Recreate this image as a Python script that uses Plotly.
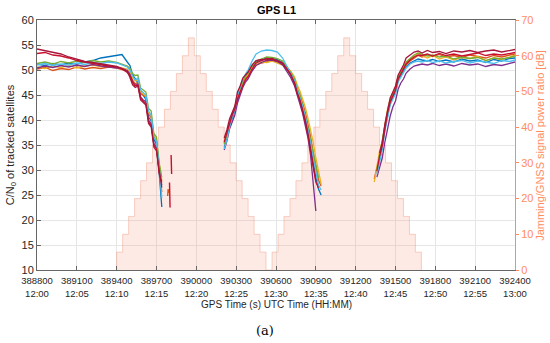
import plotly.graph_objects as go

# ---------------- data ----------------
X_TICKS = [388800, 389100, 389400, 389700, 390000, 390300, 390600, 390900,
           391200, 391500, 391800, 392100, 392400]
X_UTC = ["12:00", "12:05", "12:10", "12:15", "12:20", "12:25", "12:30", "12:35",
         "12:40", "12:45", "12:50", "12:55", "13:00"]

# jamming / GNSS power ratio profile (dB), stepwise
JAM_T = [389400, 389400, 389445, 389490, 389535, 389580, 389625, 389670, 389715, 389760,
         389805, 389850, 389895, 389940, 389985, 390030, 390075, 390120, 390165, 390210,
         390255, 390300, 390345, 390390, 390435, 390480, 390525,
         390570, 390615, 390660, 390705, 390750, 390795, 390840, 390885, 390930, 390975,
         391020, 391065, 391110, 391155, 391200, 391245, 391290, 391335, 391380, 391425,
         391470, 391515, 391560, 391605, 391650, 391695]
JAM_DB = [0, 5, 10, 15, 20, 25, 30, 35, 40, 45,
          50, 55, 60, 65, 60, 55, 50, 45, 40, 35,
          30, 25, 20, 15, 10, 5, 0,
          5, 10, 15, 20, 25, 30, 35, 40, 45, 50,
          55, 60, 65, 60, 55, 50, 45, 40, 35, 30,
          25, 20, 15, 10, 5, 0]

# C/N0 time bases for the three tracked segments
T1 = [388800, 388860, 388920, 388980, 389040, 389100, 389160, 389220, 389280, 389340,
      389400, 389440, 389480, 389500, 389520, 389540, 389560, 389580, 389600, 389620,
      389640, 389660, 389680, 389700, 389720, 389740]
T2 = [390210, 390230, 390250, 390270, 390290, 390310, 390330, 390350, 390370, 390390,
      390420, 390450, 390490, 390530, 390570, 390610, 390650, 390680, 390710, 390740,
      390760, 390780, 390800, 390820, 390840, 390860, 390880, 390900, 390920, 390940]
T3 = [391340, 391360, 391380, 391400, 391420, 391440, 391460, 391480, 391500, 391520,
      391540, 391560, 391580, 391610, 391640, 391670, 391700, 391740, 391780, 391830,
      391880, 391940, 392000, 392060, 392120, 392180, 392240, 392300, 392360, 392400]

BLUE_1 = [51.2, 50.9, 51.3, 51.0, 51.4, 51.2, 51.6, 51.9, 52.4, 52.7, 52.9, 53.1, 51.6, 50.9, 49.0,
          48.2, 47.5, 45.8, 45.0, 44.1, 40.6, 39.8, 36.2, 35.1, 29.5, 22.6]
BLUE_2 = [34.5, 36.2, 38.8, 40.2, 41.8, 44.0, 45.8, 47.2, 48.5, 48.8, 50.5, 51.6, 52.0, 52.4, 52.3,
          52.1, 51.5, 50.6, 49.3, 47.6, 45.6, 44.3, 42.4, 40.5, 38.0, 35.2, 31.8, 28.4, 26.2, 25.0]
BLUE_3 = [None, 29.6, 32.4, 34.6, 38.4, 41.2, 43.4, 44.6, 45.6, 48.0, 48.9, 49.6, 50.6, 51.4, 51.8,
          52.2, 52.0, 51.8, 52.1, 51.7, 52.0, 51.6, 52.2, 51.8, 52.0, 51.5, 52.1, 51.8, 52.3, 52.4]

ORANGE_1 = [50.2, 50.5, 49.9, 50.3, 50.1, 50.6, 50.2, 50.5, 50.3, 50.6, 50.4, 50.1, 49.8, 49.4, 48.0,
            47.2, 47.6, 45.3, 44.9, 44.6, 41.2, 40.5, 36.8, 35.5, 30.2, 25.6]
ORANGE_2 = [35.4, 37.0, 39.0, 40.8, 42.2, 44.6, 46.0, 47.5, 48.2, 48.9, 50.0, 51.0, 51.4, 51.7, 51.9,
            51.6, 51.2, 50.3, 49.1, 47.9, 46.2, 45.0, 43.4, 41.6, 39.2, 36.8, 33.6, 30.8, 28.0, 26.8]
ORANGE_3 = [28.2, 30.4, 33.2, 35.0, 38.8, 41.6, 43.8, 45.0, 46.2, 48.4, 49.2, 50.0, 51.0, 51.8, 52.4,
            52.9, 52.6, 53.0, 52.7, 53.1, 52.6, 52.9, 52.5, 53.0, 52.7, 52.4, 52.9, 52.6, 53.0, 53.2]

YELLOW_1 = [50.6, 50.3, 50.8, 50.5, 50.9, 50.4, 50.8, 51.0, 50.7, 50.9, 50.6, 50.4, 50.2, 49.6, 48.5,
            47.8, 48.1, 45.6, 45.2, 44.8, 41.5, 40.9, 37.0, 35.9, 31.0, 27.8]
YELLOW_2 = [35.8, 37.2, 39.4, 41.0, 42.5, 45.0, 46.4, 47.8, 48.6, 49.2, 50.4, 51.2, 51.6, 51.5, 51.8,
            51.4, 51.0, 50.6, 49.8, 48.6, 47.0, 45.8, 44.2, 42.6, 40.4, 38.0, 35.6, 32.4, 29.5, 27.2]
YELLOW_3 = [27.6, 30.8, 33.8, 35.6, 39.4, 42.2, 44.2, 45.4, 46.6, 48.8, 49.6, 50.4, 51.4, 52.2, 52.8,
            53.4, 52.8, 52.4, 52.9, 52.2, 52.6, 52.0, 52.5, 52.3, 52.7, 51.9, 52.4, 52.1, 52.6, 53.0]

PURPLE_1 = [50.4, 50.8, 50.5, 50.9, 50.6, 51.0, 50.7, 51.1, 50.8, 50.6, 50.5, 50.3, 49.9, 49.1, 47.6,
            46.9, 47.2, 44.6, 44.0, 43.7, 40.0, 39.2, 35.3, 34.6, 29.8, 27.0]
PURPLE_2 = [34.0, 35.8, 38.2, 39.6, 41.0, 43.4, 45.0, 46.5, 47.6, 48.2, 49.8, 50.9, 51.5, 51.9, 52.0,
            51.7, 51.0, 49.8, 48.5, 46.8, 44.8, 43.2, 41.4, 39.2, 36.5, 33.0, 26.5, 21.8, None, None]
PURPLE_3 = [None, 28.6, 30.8, 32.4, 35.6, 38.2, 40.8, 42.6, 43.8, 46.2, 47.4, 48.2, 49.4, 50.2, 50.8,
            51.0, 51.2, 51.0, 51.3, 50.9, 51.2, 50.8, 51.3, 51.0, 51.2, 50.7, 51.1, 50.9, 51.4, 51.6]

GREEN_1 = [51.3, 51.6, 51.2, 51.7, 51.4, 51.8, 51.5, 51.9, 51.6, 51.8, 51.5, 51.2, 50.8, 50.3, 49.3,
           48.9, 49.0, 46.4, 46.0, 45.6, 42.3, 41.8, 37.3, 36.6, 31.5, 28.5]
GREEN_2 = [35.2, 36.8, 39.2, 41.2, 42.4, 45.2, 46.2, 47.8, 48.8, 49.4, 50.8, 51.8, 52.2, 52.6, 52.5,
           52.3, 51.8, 50.8, 49.6, 48.2, 46.3, 45.0, 43.0, 41.0, 38.6, 36.0, 33.4, 30.6, 28.4, None]
GREEN_3 = [None, 30.0, 33.0, 35.2, 39.0, 41.8, 44.0, 45.2, 46.4, 48.6, 49.5, 50.5, 51.6, 52.4, 53.0,
           53.4, 53.1, 52.8, 53.0, 52.6, 52.8, 52.2, 52.6, 52.3, 52.5, 51.9, 52.4, 52.2, 52.5, 52.8]

LIGHTBLUE_1 = [51.0, 51.3, 50.9, 51.2, 51.0, 51.4, 51.1, 51.5, 51.3, 51.6, 51.4, 51.0, 50.6, 50.0, 48.8,
               48.0, 48.4, 46.0, 45.5, 45.0, 41.8, 41.0, 36.5, 35.7, 30.6, 24.5]
LIGHTBLUE_2 = [34.2, 36.0, 38.6, 40.6, 42.0, 44.8, 46.6, 48.2, 49.2, 50.0, 51.8, 53.2, 53.8, 54.0, 53.9,
               53.6, 52.4, 50.9, 49.4, 47.8, 46.0, 44.6, 42.8, 40.8, 38.2, 35.4, 32.2, 29.4, 27.0, 26.0]
LIGHTBLUE_3 = [None, 29.2, 32.0, 34.0, 37.8, 40.6, 43.0, 44.2, 45.2, 47.6, 48.5, 49.4, 50.4, 51.2, 51.6,
               51.8, 51.6, 51.9, 51.5, 51.8, 51.4, 51.7, 51.9, 51.4, 51.8, 51.6, 51.3, 51.9, 51.7, 52.0]

RED_1 = [54.2, 53.9, 53.6, 53.2, 52.6, 52.2, 51.7, 51.5, 51.2, 51.0, 50.7, 50.3, 49.7, 48.5, 47.0,
         46.5, 46.8, 44.0, 43.5, 43.0, 39.3, 38.6, 34.6, 33.8, 30.0, 26.5]
RED_2 = [36.4, 38.0, 40.2, 41.4, 42.8, 45.6, 46.8, 48.4, 49.0, 49.6, 51.0, 51.9, 52.1, 52.0, 52.3,
         51.8, 51.3, 50.2, 49.0, 47.4, 45.4, 44.0, 42.2, 40.0, 37.4, 34.6, 31.0, 28.0, None, None]
RED_3 = [None, None, 33.4, 35.4, 39.2, 42.0, 44.4, 45.6, 46.8, 49.0, 50.0, 51.0, 52.4, 53.0, 53.6,
         53.8, 53.4, 53.9, 53.5, 53.7, 53.3, 53.8, 53.6, 53.9, 53.5, 53.8, 54.0, 53.6, 53.9, 54.1]

CRIMSON_1 = [53.3, 53.5, 53.0, 52.8, 52.4, 51.9, 51.6, 51.3, 51.0, 50.8, 50.6, 50.2, 49.5, 48.9, 47.5,
             46.8, 47.0, 44.4, 43.8, 43.3, 39.6, 39.0, 35.0, 34.2, 29.3, 27.5]
CRIMSON_2 = [35.6, 37.4, 39.6, 41.0, 42.2, 44.2, 45.6, 47.0, 48.0, 48.6, 50.2, 51.4, 51.9, 52.3, 52.1,
             51.9, 51.4, 50.4, 49.2, 47.2, 45.2, 43.8, 41.8, 39.6, 37.0, 34.2, 30.6, 27.6, 26.4, None]
CRIMSON_3 = [None, 29.8, 32.8, 34.8, 38.6, 41.4, 43.6, 44.8, 46.0, 48.2, 49.2, 50.2, 51.2, 52.0, 52.6,
             53.0, 52.9, 53.2, 52.8, 53.3, 52.9, 53.2, 52.8, 53.1, 53.4, 52.9, 53.2, 53.0, 53.3, 53.5]

# short isolated tracking fragments after the first loss of lock
FRAG_A_T = [389810, 389812, 389814]
FRAG_A_V = [33.0, 30.5, 29.2]
FRAG_B_T = [389798, 389800, 389802]
FRAG_B_V = [27.5, 24.0, 22.5]
FRAG_C_T = [389784, 389788, 389792]
FRAG_C_V = [24.8, 26.2, 25.4]

SERIES = [
    (BLUE_1, BLUE_2, BLUE_3),
    (ORANGE_1, ORANGE_2, ORANGE_3),
    (YELLOW_1, YELLOW_2, YELLOW_3),
    (PURPLE_1, PURPLE_2, PURPLE_3),
    (GREEN_1, GREEN_2, GREEN_3),
    (LIGHTBLUE_1, LIGHTBLUE_2, LIGHTBLUE_3),
    (CRIMSON_1, CRIMSON_2, CRIMSON_3),
    (RED_1, RED_2, RED_3),
]
SERIES_COLORS = ["#0072BD", "#D95319", "#EDB120", "#7E2F8E", "#77AC30", "#4DBEEE", "#C8102E", "#A8163A"]

# ---------------- figure ----------------
ORANGE_AX = "#FF8C5F"
TXT = "#262626"
GRID = "#e6e6e6"
FONT = "Liberation Sans, Arial, sans-serif"

fig = go.Figure()

fig.add_trace(go.Scatter(
    x=JAM_T, y=JAM_DB, yaxis="y", mode="lines",
    line=dict(shape="hv", color="rgba(240,140,110,0.38)", width=1),
    fill="tozeroy", fillcolor="rgba(250,160,130,0.22)",
    hoverinfo="skip", showlegend=False))

for (s1, s2, s3), col in zip(SERIES, SERIES_COLORS):
    xs = T1 + [None] + T2 + [None] + T3
    ys = s1 + [None] + s2 + [None] + s3
    fig.add_trace(go.Scatter(x=xs, y=ys, yaxis="y2", mode="lines",
                             line=dict(color=col, width=1.3), showlegend=False))

for ft, fv, col in [(FRAG_A_T, FRAG_A_V, "#C8102E"), (FRAG_B_T, FRAG_B_V, "#C8102E"),
                    (FRAG_C_T, FRAG_C_V, "#D95319")]:
    fig.add_trace(go.Scatter(x=ft, y=fv, yaxis="y2", mode="lines",
                             line=dict(color=col, width=1.4), showlegend=False))

fig.update_layout(
    width=550, height=343,
    margin=dict(l=37, r=35, t=20, b=73),
    paper_bgcolor="white", plot_bgcolor="white",
    font=dict(family=FONT, color=TXT, size=10),
    xaxis=dict(
        range=[388800, 392400], tickvals=X_TICKS,
        ticktext=[f"{t}<br>{u}" for t, u in zip(X_TICKS, X_UTC)],
        tickfont=dict(size=9.5, color=TXT), ticklabelstandoff=2,
        showgrid=True, gridcolor=GRID, gridwidth=1,
        ticks="inside", ticklen=4, tickcolor="#666",
        showline=True, linecolor="#666", linewidth=1, mirror="ticks",
        zeroline=False),
    yaxis=dict(
        range=[0, 70], dtick=10, side="right",
        tickfont=dict(size=11, color=ORANGE_AX),
        showgrid=False, zeroline=False,
        ticks="outside", ticklen=3, tickcolor=ORANGE_AX,
        showline=True, linecolor=ORANGE_AX, linewidth=1),
    yaxis2=dict(
        range=[10, 60], dtick=5, side="left", overlaying="y",
        tickfont=dict(size=11, color=TXT),
        showgrid=True, gridcolor=GRID, gridwidth=1, zeroline=False,
        ticks="inside", ticklen=4, tickcolor="#666",
        showline=True, linecolor="#666", linewidth=1),
    annotations=[
        dict(text="<b>GPS L1</b>", xref="paper", yref="paper", x=0.5, y=1.04,
             xanchor="center", yanchor="middle", showarrow=False,
             font=dict(size=11, color="#000")),
        dict(text="C/N<sub>0</sub> of tracked satellites", xref="paper", yref="paper",
             x=-0.054, y=0.5, textangle=-90, xanchor="center", yanchor="middle",
             showarrow=False, font=dict(size=11, color=TXT)),
        dict(text="Jamming/GNSS signal power ratio [dB]", xref="paper", yref="paper",
             x=1.052, y=0.5, textangle=-90, xanchor="center", yanchor="middle",
             showarrow=False, font=dict(size=11, color=ORANGE_AX)),
        dict(text="GPS Time (s) UTC Time (HH:MM)", xref="paper", yref="paper",
             x=0.5, y=-0.136, xanchor="center", yanchor="middle", showarrow=False,
             font=dict(size=10, color=TXT)),
        dict(text="(a)", xref="paper", yref="paper", x=0.477, y=-0.24,
             xanchor="center", yanchor="middle", showarrow=False,
             font=dict(family="DejaVu Serif, Liberation Serif, serif", size=13, color="#000")),
    ],
)

fig.write_html("out.html", config={"displayModeBar": False},
               post_script="document.body.style.margin='0';document.body.style.overflow='hidden';")
